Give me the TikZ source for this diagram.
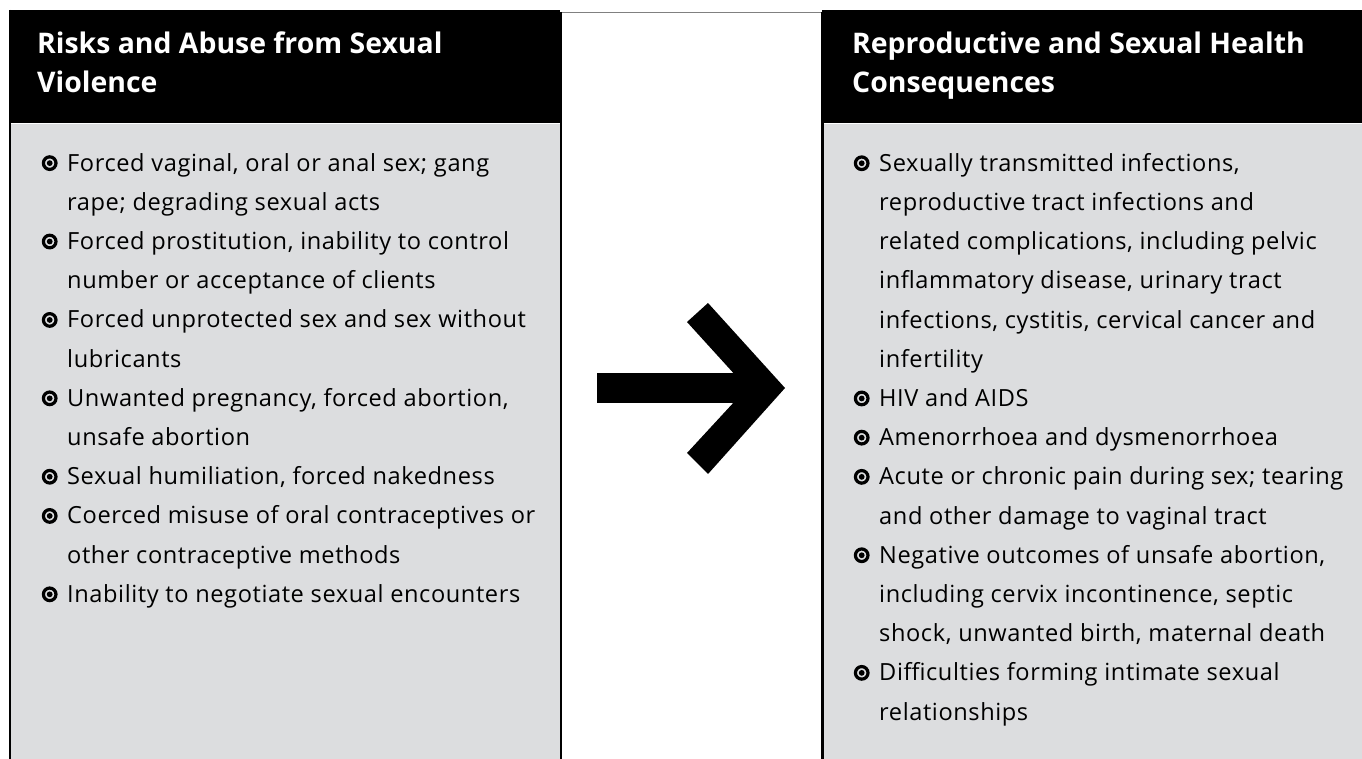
\documentclass[tikz,border=0pt]{standalone}
\usepackage{fontspec}
\setmainfont{Open Sans}[LetterSpace=2.5, BoldFeatures={LetterSpace=0}]
\usetikzlibrary{positioning}

\definecolor{panelgray}{RGB}{220,221,223}
\newcommand\bulmark{\makebox[27pt][l]{\hspace*{1.6pt}\tikz[baseline=-8pt]{\draw[line width=3.2pt] (6.3pt,0pt) circle (6.3pt); \fill (6.3pt,0pt) circle (2.9pt);}}}
\newcommand\contline{\hspace*{27pt}}

\begin{document}
\begin{tikzpicture}%
  [x=1pt, y=-1pt,
   head/.style={fill=black, inner sep=0pt, anchor=north west, minimum height=113pt},
   body/.style={fill=panelgray, inner sep=0pt, minimum height=640pt},
   title/.style={text=white, font=\fontsize{28.4}{39}\selectfont\bfseries, anchor=north west, inner sep=0pt, align=left},
   items/.style={font=\fontsize{23.6}{39.2}\selectfont, anchor=north west, inner sep=0pt, align=left},
   edge line/.style={line width=2.4pt}
  ]
\useasboundingbox (0,0) rectangle (1362,759);

% the two panels
\node[head, minimum width=550pt] (lhead) at (10,10) {};
\node[body, minimum width=550pt, below=0pt of lhead] (lbody) {};
\node[head, minimum width=540pt] (rhead) at (822,10) {};
\node[body, minimum width=540pt, below=0pt of rhead] (rbody) {};
\draw[edge line] (lhead.north west) -- (lbody.south west);

% white gap in the middle
\node[fill=white, inner sep=0pt, anchor=north west, minimum width=261pt, minimum height=760pt] (gap) at (561,12) {};
\draw[gray, line width=0.8pt] (gap.north west) -- (gap.north east);
\draw[edge line] (gap.north west) -- (gap.south west);
\draw[edge line] (gap.north east) -- (gap.south east);

% headings
\node[title] (ltitle) at (37,32) {Risks and Abuse from Sexual\\Violence};
\node[title] (rtitle) at (852,32) {Reproductive and Sexual Health\\Consequences};

% lists
\node[items] (litems) at (40,153) {%
  \bulmark Forced vaginal, oral or anal sex; gang\\
  \contline rape; degrading sexual acts\\
  \bulmark Forced prostitution, inability to control\\
  \contline number or acceptance of clients\\
  \bulmark Forced unprotected sex and sex without\\
  \contline lubricants\\
  \bulmark Unwanted pregnancy, forced abortion,\\
  \contline unsafe abortion\\
  \bulmark Sexual humiliation, forced nakedness\\
  \bulmark Coerced misuse of oral contraceptives or\\
  \contline other contraceptive methods\\
  \bulmark Inability to negotiate sexual encounters};
\node[items] (ritems) at (852,153) {%
  \bulmark Sexually transmitted infections,\\
  \contline reproductive tract infections and\\
  \contline related complications, including pelvic\\
  \contline inflammatory disease, urinary tract\\
  \contline infections, cystitis, cervical cancer and\\
  \contline infertility\\
  \bulmark HIV and AIDS\\
  \bulmark Amenorrhoea and dysmenorrhoea\\
  \bulmark Acute or chronic pain during sex; tearing\\
  \contline and other damage to vaginal tract\\
  \bulmark Negative outcomes of unsafe abortion,\\
  \contline including cervix incontinence, septic\\
  \contline shock, unwanted birth, maternal death\\
  \bulmark Difficulties forming intimate sexual\\
  \contline relationships};

% the big arrow
\coordinate (tip) at (785,388);
\fill (597,373) rectangle (752,403);
\fill (687,322) -- (708,303) -- (tip) -- (708,474) -- (687,453) -- (747,388) -- cycle;
\end{tikzpicture}
\end{document}
